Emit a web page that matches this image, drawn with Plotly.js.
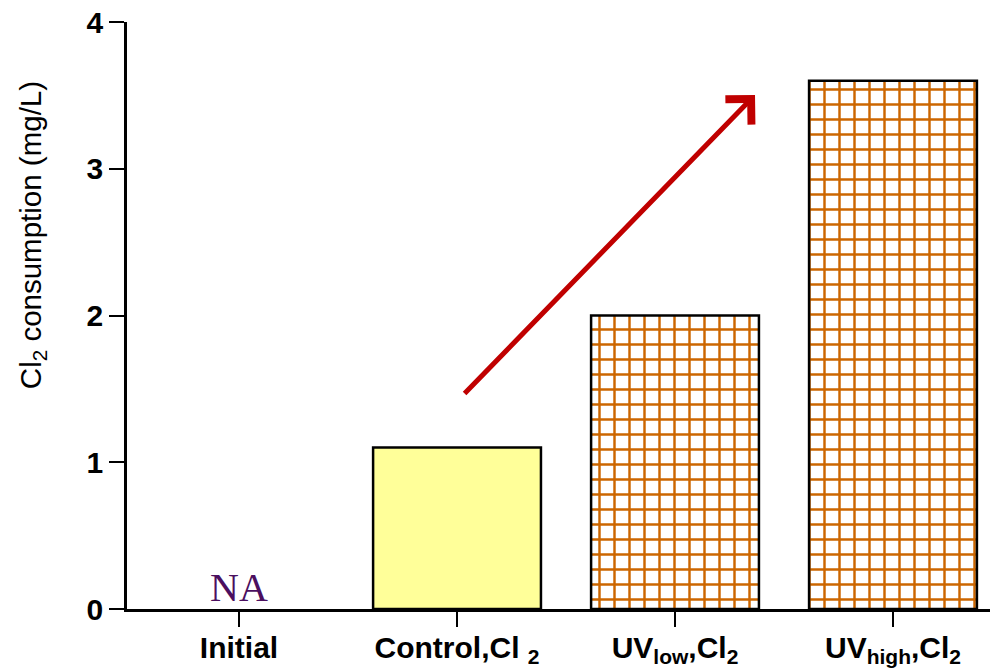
<!DOCTYPE html>
<html>
<head>
<meta charset="utf-8">
<script src="https://cdn.plot.ly/plotly-3.0.1.min.js"></script>
<style>html,body{margin:0;padding:0;background:#fff;}#chart{width:990px;height:670px;}</style>
</head>
<body>
<div id="chart"></div>
<script>
// Data
const categories = ["Initial", "Control,Cl <sub>2</sub>", "UV<sub>low</sub>,Cl<sub>2</sub>", "UV<sub>high</sub>,Cl<sub>2</sub>"];
const consumption = [null, 1.1, 2.0, 3.6];
const plainIdx = [0, 1];     // solid yellow bars
const gridIdx = [2, 3];      // orange grid-hatched bars
const yTicks = [0, 1, 2, 3, 4];
const naLabel = "NA";
const yTitle = "Cl<sub>2</sub> consumption (mg/L)";

const pick = (arr, idx) => idx.map(i => arr[i]);

const plainTrace = {
  type: "bar",
  x: pick(categories, plainIdx),
  y: pick(consumption, plainIdx),
  width: 0.77,
  marker: {color: "#FFFF99", line: {color: "#000000", width: 2.5}},
  hoverinfo: "x+y"
};

const gridTrace = {
  type: "bar",
  x: pick(categories, gridIdx),
  y: pick(consumption, gridIdx),
  width: 0.77,
  marker: {
    color: "#FFFFFF",
    line: {color: "#000000", width: 2.5},
    pattern: {shape: "+", fgcolor: "#CC6600", bgcolor: "#FFFFFF", size: 15, solidity: 0.3}
  },
  hoverinfo: "x+y"
};

const layout = {
  width: 990,
  height: 670,
  margin: {l: 127, r: 0, t: 22, b: 61},
  paper_bgcolor: "#FFFFFF",
  plot_bgcolor: "#FFFFFF",
  showlegend: false,
  barmode: "overlay",
  xaxis: {
    type: "category",
    categoryorder: "array",
    categoryarray: categories,
    range: [-0.514, 3.445],
    showline: true, linecolor: "#000000", linewidth: 2.5,
    ticks: "outside", ticklen: 15, tickwidth: 2, tickcolor: "#000000",
    ticklabelstandoff: -5,
    showgrid: false, zeroline: false,
    tickfont: {family: "Liberation Sans, Arial, sans-serif", size: 30, weight: "bold", color: "#000000"}
  },
  yaxis: {
    range: [0, 4],
    tickvals: yTicks,
    ticktext: yTicks.map(String),
    showline: true, linecolor: "#000000", linewidth: 2.5,
    ticks: "outside", ticklen: 15, tickwidth: 2, tickcolor: "#000000",
    showgrid: false, zeroline: false,
    tickfont: {family: "Liberation Sans, Arial, sans-serif", size: 30, weight: "bold", color: "#000000"}
  },
  annotations: [
    {xref: "paper", yref: "paper", x: -0.110, y: 0.637, xanchor: "center", yanchor: "middle",
     text: yTitle, textangle: -90, showarrow: false,
     font: {family: "Liberation Sans, Arial, sans-serif", size: 29.5, color: "#000000"}},
    {x: categories[0], y: 0, xref: "x", yref: "y", text: naLabel, showarrow: false,
     yanchor: "bottom", yshift: -3,
     font: {family: "Liberation Serif, Times New Roman, serif", size: 40, color: "#4B0F5F"}},
    {x: 2.367, y: 3.503, xref: "x", yref: "y", ax: 1.028, ay: 1.458, axref: "x", ayref: "y",
     text: "", showarrow: true, arrowhead: 4, arrowsize: 1.4, arrowwidth: 5, arrowcolor: "#C00000", standoff: 0}
  ]
};

Plotly.newPlot("chart", [plainTrace, gridTrace], layout, {displayModeBar: false});
</script>
</body>
</html>
